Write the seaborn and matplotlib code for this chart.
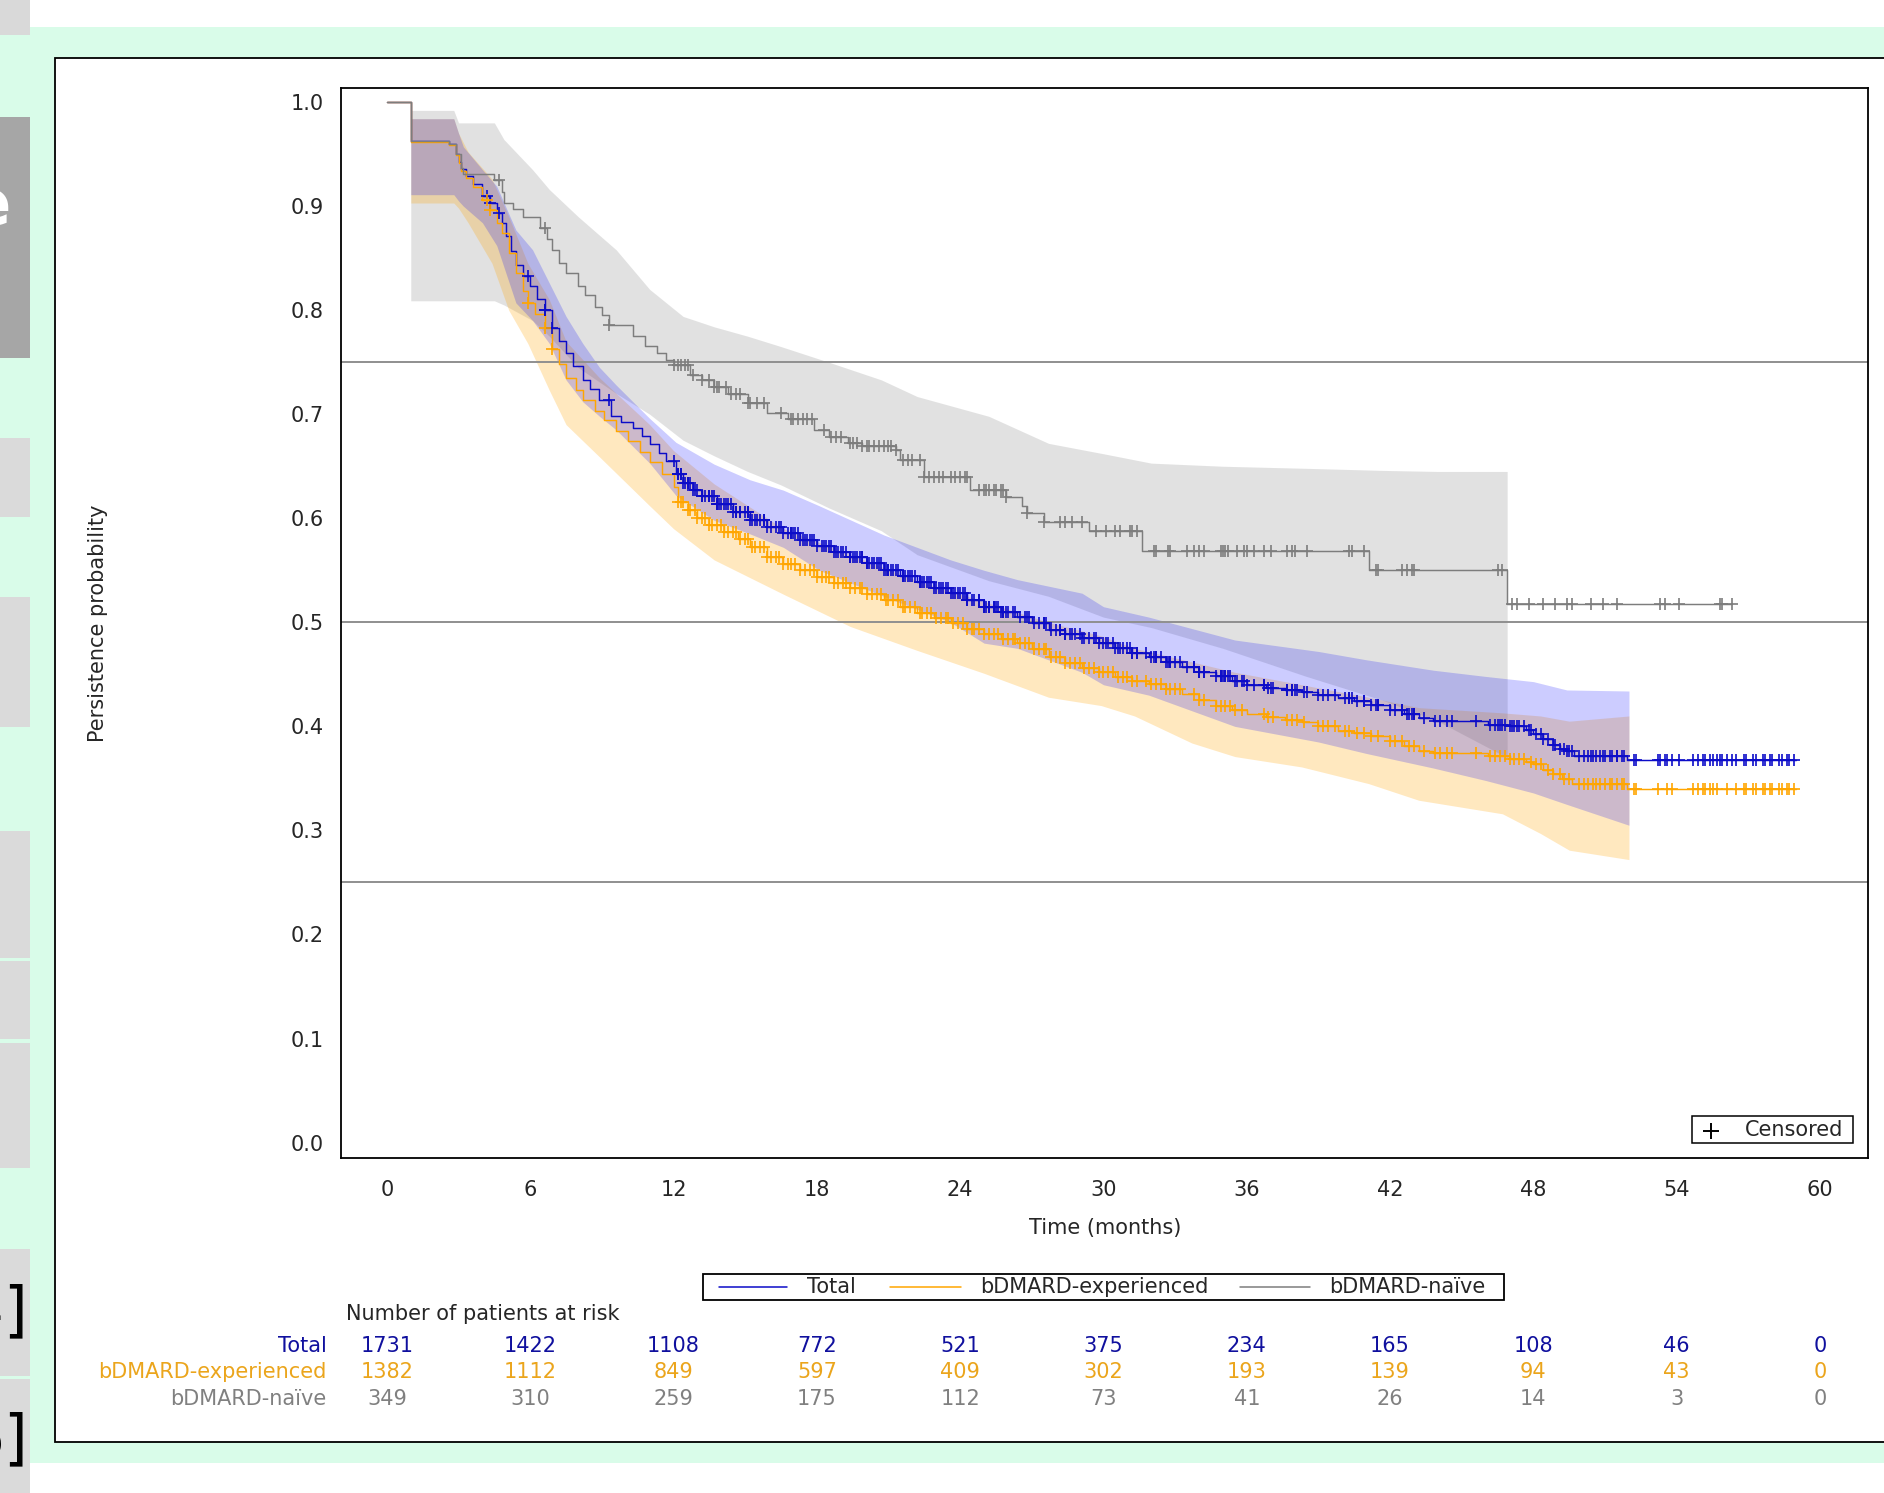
import numpy as np
import matplotlib
matplotlib.use("Agg")
import matplotlib.pyplot as plt
import matplotlib.transforms as mtransforms
from matplotlib.patches import Rectangle
from matplotlib.lines import Line2D
import seaborn as sns

sns.set_style("white")
plt.rcParams["font.family"] = ["DejaVu Sans"]

# ---------------- data ----------------
group_names = ["Total", "bDMARD-experienced", "bDMARD-naïve"]

total_t = [0, 1.0, 2.6, 2.9, 3.0, 3.1, 3.3, 3.6, 4.0, 4.3, 4.6, 4.8, 5.0, 5.2, 5.4, 5.7, 6.0, 6.3, 6.6, 6.9,
           7.2, 7.5, 7.8, 8.2, 8.5, 8.9, 9.4, 9.8, 10.3, 10.7, 11.0, 11.4, 11.7, 12.1, 12.4, 12.8, 13.2, 13.8,
           14.5, 15.2, 15.9, 16.6, 17.3, 18.0, 18.7, 19.4, 20.1, 20.8, 21.5, 22.2, 22.9, 23.6, 24.3, 25.0,
           25.7, 26.4, 27.0, 27.7, 28.4, 29.1, 29.8, 30.5, 31.2, 31.9, 32.6, 33.3, 34.0, 34.7, 35.4, 36.0,
           36.8, 37.6, 38.3, 39.0, 39.8, 40.5, 41.2, 42.0, 42.6, 43.2, 43.8, 46.1, 47.0, 47.7, 48.0, 48.4,
           48.8, 49.1, 49.4, 49.7, 51.9]
total_s = [1.000, 0.963, 0.960, 0.950, 0.942, 0.936, 0.929, 0.921, 0.910, 0.903, 0.893, 0.884, 0.871, 0.857,
           0.843, 0.833, 0.823, 0.811, 0.800, 0.783, 0.770, 0.759, 0.746, 0.733, 0.724, 0.714, 0.698, 0.693,
           0.687, 0.679, 0.671, 0.663, 0.655, 0.643, 0.634, 0.627, 0.621, 0.614, 0.606, 0.598, 0.592, 0.586,
           0.579, 0.573, 0.568, 0.563, 0.557, 0.550, 0.545, 0.539, 0.533, 0.528, 0.521, 0.515, 0.510, 0.505,
           0.499, 0.493, 0.489, 0.485, 0.480, 0.475, 0.471, 0.467, 0.462, 0.457, 0.452, 0.448, 0.444, 0.440,
           0.437, 0.435, 0.433, 0.430, 0.427, 0.424, 0.421, 0.416, 0.412, 0.408, 0.405, 0.401, 0.400, 0.397,
           0.393, 0.388, 0.382, 0.378, 0.376, 0.372, 0.368]
total_end = 59.0

exp_t = [0, 1.0, 2.6, 2.9, 3.0, 3.1, 3.3, 3.6, 4.0, 4.3, 4.6, 4.8, 5.1, 5.4, 5.7, 5.9, 6.2, 6.6, 6.9, 7.2, 7.5,
         7.9, 8.2, 8.7, 9.1, 9.6, 10.1, 10.6, 11.0, 11.5, 12.0, 12.2, 12.6, 13.0, 13.5, 14.1, 14.7, 15.2, 15.9,
         16.6, 17.3, 18.0, 18.7, 19.4, 20.1, 20.8, 21.5, 22.2, 22.9, 23.6, 24.3, 25.0, 25.7, 26.4, 27.0, 27.7,
         28.4, 29.1, 29.8, 30.5, 31.2, 31.9, 32.6, 33.3, 34.0, 34.7, 35.4, 36.0, 36.8, 37.6, 38.3, 39.0, 39.8,
         40.5, 41.2, 42.0, 42.6, 43.2, 43.8, 46.1, 47.0, 47.7, 48.0, 48.4, 48.8, 49.2, 49.6, 51.9]
exp_s = [1.000, 0.962, 0.959, 0.949, 0.941, 0.934, 0.927, 0.918, 0.906, 0.896, 0.884, 0.874, 0.855, 0.836,
         0.818, 0.807, 0.796, 0.783, 0.763, 0.748, 0.735, 0.723, 0.714, 0.703, 0.694, 0.684, 0.674, 0.664,
         0.654, 0.643, 0.630, 0.616, 0.608, 0.600, 0.594, 0.587, 0.580, 0.572, 0.563, 0.556, 0.550, 0.544,
         0.538, 0.533, 0.527, 0.521, 0.515, 0.509, 0.504, 0.499, 0.494, 0.489, 0.484, 0.480, 0.474, 0.467,
         0.461, 0.456, 0.452, 0.447, 0.444, 0.441, 0.436, 0.431, 0.425, 0.420, 0.416, 0.412, 0.409, 0.406,
         0.404, 0.400, 0.396, 0.394, 0.391, 0.386, 0.381, 0.376, 0.374, 0.372, 0.369, 0.366, 0.364, 0.358,
         0.354, 0.349, 0.345, 0.340]
exp_end = 59.0

naive_t = [0, 1.0, 2.6, 2.9, 3.1, 3.2, 4.5, 4.8, 4.9, 5.3, 5.7, 6.4, 6.7, 6.9, 7.2, 7.5, 8.0, 8.3, 8.7, 9.0, 9.3,
           10.3, 10.8, 11.3, 11.7, 12.0, 12.7, 13.2, 13.7, 14.3, 15.1, 15.9, 16.8, 17.9, 18.5, 19.3, 19.9,
           21.3, 21.5, 22.5, 24.4, 25.9, 26.6, 26.8, 27.5, 29.4, 31.6, 41.1, 46.9]
naive_s = [1.000, 0.963, 0.960, 0.950, 0.937, 0.931, 0.925, 0.914, 0.903, 0.897, 0.890, 0.879, 0.868, 0.858,
           0.845, 0.836, 0.823, 0.815, 0.803, 0.795, 0.786, 0.775, 0.766, 0.759, 0.752, 0.747, 0.738, 0.733,
           0.726, 0.719, 0.711, 0.701, 0.695, 0.685, 0.678, 0.672, 0.669, 0.666, 0.656, 0.640, 0.627, 0.620,
           0.612, 0.605, 0.596, 0.588, 0.569, 0.550, 0.518]
naive_end = 56.3

# confidence bands
total_band_t = [1.0, 2.8, 3.0, 3.2, 4.0, 4.6, 5.4, 6.1, 6.8, 7.5, 8.2, 8.9, 9.6, 11.0, 12.1, 13.7, 15.2, 16.6,
                18.1, 20.8, 23.6, 25.0, 26.4, 29.1, 30.0, 31.9, 35.5, 39.0, 41.0, 43.8, 46.0, 48.0, 49.4, 52.0]
total_band_hi = [0.984, 0.984, 0.970, 0.957, 0.935, 0.919, 0.877, 0.858, 0.826, 0.794, 0.768, 0.745, 0.728,
                 0.696, 0.673, 0.652, 0.637, 0.627, 0.612, 0.584, 0.560, 0.550, 0.541, 0.528, 0.515, 0.505,
                 0.483, 0.472, 0.464, 0.454, 0.448, 0.443, 0.435, 0.434]
total_band_lo = [0.911, 0.911, 0.905, 0.900, 0.884, 0.862, 0.807, 0.790, 0.768, 0.733, 0.712, 0.698, 0.685,
                 0.653, 0.622, 0.598, 0.585, 0.572, 0.550, 0.525, 0.500, 0.480, 0.475, 0.452, 0.440, 0.430,
                 0.400, 0.385, 0.374, 0.360, 0.348, 0.336, 0.325, 0.305]

exp_band_t = [1.0, 2.8, 3.0, 3.4, 4.4, 5.1, 5.9, 6.8, 7.5, 8.9, 11.0, 12.0, 13.7, 16.6, 19.4, 22.2, 25.0, 27.7,
              29.9, 31.3, 33.7, 35.5, 38.3, 41.1, 43.2, 46.7, 48.3, 49.5, 52.0]
exp_band_hi = [0.984, 0.984, 0.970, 0.952, 0.926, 0.890, 0.845, 0.810, 0.770, 0.735, 0.690, 0.665, 0.633,
               0.590, 0.565, 0.540, 0.520, 0.500, 0.487, 0.475, 0.462, 0.452, 0.440, 0.428, 0.418, 0.413,
               0.410, 0.405, 0.410]
exp_band_lo = [0.903, 0.903, 0.898, 0.884, 0.845, 0.800, 0.768, 0.723, 0.690, 0.659, 0.612, 0.590, 0.560,
               0.527, 0.496, 0.473, 0.451, 0.428, 0.420, 0.410, 0.384, 0.371, 0.361, 0.345, 0.329, 0.316,
               0.297, 0.281, 0.272]

naive_band_t = [1.0, 2.8, 3.0, 4.5, 4.9, 6.1, 6.8, 8.0, 9.6, 11.0, 12.4, 13.7, 15.1, 16.5, 18.5, 20.7, 22.2,
                25.2, 27.7, 30.0, 32.0, 35.0, 38.5, 41.7, 44.0, 46.9]
naive_band_hi = [0.992, 0.992, 0.980, 0.980, 0.964, 0.935, 0.916, 0.890, 0.858, 0.820, 0.794, 0.784, 0.775,
                 0.765, 0.750, 0.733, 0.717, 0.698, 0.672, 0.662, 0.653, 0.650, 0.648, 0.646, 0.645, 0.645]
naive_band_lo = [0.809, 0.809, 0.809, 0.809, 0.805, 0.790, 0.775, 0.745, 0.720, 0.700, 0.675, 0.660, 0.645,
                 0.632, 0.610, 0.588, 0.565, 0.540, 0.525, 0.505, 0.495, 0.475, 0.448, 0.425, 0.405, 0.370]

# censored times
exp_cens = [4.2, 4.3, 5.9, 6.6, 6.9,
            12.2, 12.3, 12.4, 12.6, 12.7, 12.9, 13.0, 13.2, 13.3, 13.5, 13.6, 13.8, 14.0, 14.1, 14.3, 14.5,
            14.6, 14.8, 15.0, 15.1, 15.3, 15.4, 15.6, 15.8, 15.9, 16.1, 16.3, 16.4, 16.6, 16.8, 16.9, 17.1,
            17.3, 17.5, 17.7, 17.9, 18.0, 18.2, 18.4, 18.5, 18.7, 18.9, 19.1, 19.2, 19.4, 19.6, 19.8, 19.9,
            20.1, 20.3, 20.5, 20.7, 20.9, 21.0, 21.2, 21.4, 21.6, 21.7, 21.9, 22.1, 22.3, 22.4, 22.6, 22.8,
            23.0, 23.2, 23.4, 23.5, 23.7, 23.9, 24.1, 24.3, 24.5, 24.6, 24.8, 25.0, 25.2, 25.4, 25.6, 25.8,
            26.0, 26.2, 26.3, 26.5, 26.7, 26.9, 27.1, 27.3, 27.5, 27.6, 27.8, 28.0, 28.2, 28.4, 28.6, 28.8,
            29.0, 29.2, 29.4, 29.6, 29.8, 30.0, 30.2, 30.4, 30.6, 30.8, 31.0, 31.2, 31.4, 31.8, 32.0, 32.2,
            32.4, 32.6, 32.8, 33.0, 33.2, 33.8, 34.0, 34.2, 34.7, 34.9, 35.1, 35.3, 35.5, 35.8, 36.7, 36.9,
            37.1, 37.7, 37.9, 38.1, 38.4, 39.0, 39.2, 39.4, 39.7, 40.1, 40.3, 40.6, 40.9, 41.2, 41.5, 42.0,
            42.2, 42.5, 42.8, 43.0, 43.4, 43.9, 44.1, 44.4, 44.6, 45.6, 46.2, 46.4, 46.6, 46.8, 47.0, 47.2,
            47.4, 47.6, 47.9, 48.1, 48.3, 48.6, 48.8, 49.1, 49.3, 49.5, 49.9, 50.1, 50.3, 50.5, 50.6, 50.8,
            51.0, 51.2, 51.3, 51.5, 51.7, 51.8, 52.2, 52.3, 53.2, 53.6, 53.8, 54.7, 54.9, 55.1, 55.2, 55.4,
            55.5, 55.7, 56.1, 56.5, 56.8, 56.9, 57.2, 57.3, 57.6, 57.7, 57.9, 58.0, 58.3, 58.4, 58.6, 58.7, 58.9]
naive_cens = [4.7, 6.6, 9.3, 12.0, 12.2, 12.3, 12.5, 12.6, 12.8, 13.2, 13.5, 13.7, 13.8, 13.9, 14.2, 14.4, 14.6,
              14.8, 15.1, 15.2, 15.5, 15.8, 16.5, 16.9, 17.0, 17.2, 17.4, 17.6, 17.8, 18.3, 18.6, 18.8, 19.0,
              19.4, 19.5, 19.7, 19.9, 20.1, 20.2, 20.4, 20.6, 20.8, 21.0, 21.1, 21.3, 21.6, 21.8, 22.0, 22.3,
              22.5, 22.7, 22.9, 23.1, 23.3, 23.6, 23.8, 24.0, 24.2, 24.3, 24.8, 25.0, 25.1, 25.2, 25.4, 25.5,
              25.7, 25.8, 25.9, 26.8, 27.5, 28.2, 28.4, 28.7, 29.1, 29.7, 30.1, 30.5, 30.7, 31.1, 31.2, 31.4,
              32.1, 32.2, 32.7, 32.8, 33.5, 33.8, 34.0, 34.2, 34.9, 35.0, 35.1, 35.2, 35.6, 35.9, 36.0, 36.3,
              36.7, 37.0, 37.7, 37.9, 38.0, 38.5, 40.3, 40.4, 40.9, 41.4, 41.5, 42.5, 42.7, 42.9, 43.0, 46.5,
              46.7, 47.1, 47.3, 47.8, 48.4, 48.9, 49.4, 49.6, 50.4, 50.9, 51.5, 53.3, 53.5, 54.1, 55.8, 55.9, 56.3]

risk_times = [0, 6, 12, 18, 24, 30, 36, 42, 48, 54, 60]
total_risk = [1731, 1422, 1108, 772, 521, 375, 234, 165, 108, 46, 0]
exp_risk = [1382, 1112, 849, 597, 409, 302, 193, 139, 94, 43, 0]
naive_risk = [349, 310, 259, 175, 112, 73, 41, 26, 14, 3, 0]

# ---------------- styling ----------------
line_colors = ["#0c0cc8", "#ffa500", "#7d7d7d"]
text_colors = ["#10109e", "#eba51c", "#808080"]
band_colors = ["#0000ff", "#ffa500", "#9e9e9e"]
band_alphas = [0.20, 0.25, 0.30]

W, H = 1884, 1493
fig = plt.figure(figsize=(W / 100, H / 100), dpi=100)
fig.patch.set_facecolor("white")


def fyy(y):
    return 1 - y / H


def frect(x0, y0, x1, y1, **kw):
    fig.add_artist(Rectangle((x0 / W, fyy(y1)), (x1 - x0) / W, (y1 - y0) / H,
                             transform=fig.transFigure, **kw))


# page background pieces
frect(0, 27, W, 1463, fc="#d9fce9", ec="none", zorder=-3)
frect(54.5, 57.7, W + 20, 1441.7, fc="white", ec="black", lw=1.3, zorder=-2)
frect(0, 0, 30, 35, fc="#d9d9d9", ec="none", zorder=-2)
frect(0, 117, 30, 358, fc="#a6a6a6", ec="none", zorder=-2)
for (a, b) in [(438, 517), (597, 727), (831, 958), (961, 1039), (1043, 1168), (1249, 1376), (1379, 1493)]:
    frect(0, a, 30, b, fc="#dadada", ec="none", zorder=-2)
fig.text(11 / W, fyy(207), "e", color="white", fontsize=46, fontweight="bold", ha="right", va="center")
fig.text(28 / W, fyy(1313), "4]", color="black", fontsize=44, ha="right", va="center")
fig.text(29 / W, fyy(1441), "6]", color="black", fontsize=44, ha="right", va="center")

# axes
ax_l, ax_r, ax_t, ax_b = 341.2, 1868.3, 87.7, 1158.2
ax = fig.add_axes([ax_l / W, fyy(ax_b), (ax_r - ax_l) / W, (ax_b - ax_t) / H])
ax.set_facecolor("white")

# bands: naive, experienced, total
for bt, blo, bhi, ci in [(naive_band_t, naive_band_lo, naive_band_hi, 2),
                         (exp_band_t, exp_band_lo, exp_band_hi, 1),
                         (total_band_t, total_band_lo, total_band_hi, 0)]:
    ax.fill_between(bt, blo, bhi, color=band_colors[ci], alpha=band_alphas[ci], lw=0, zorder=1)

for v in [0.25, 0.5, 0.75]:
    ax.axhline(v, color="#8f8f8f", lw=1.4, zorder=1.5)


def step_value(times, vals, q):
    idx = np.searchsorted(np.asarray(times), np.asarray(q), side="right") - 1
    return np.asarray(vals)[idx]


total_cens = np.sort(np.concatenate([exp_cens, naive_cens]))
curves = [(total_t, total_s, total_end, total_cens, 0),
          (exp_t, exp_s, exp_end, exp_cens, 1),
          (naive_t, naive_s, naive_end, naive_cens, 2)]
for tt, ss, tend, cens, ci in curves:
    xs = list(tt) + [tend]
    ys = list(ss) + [ss[-1]]
    sns.lineplot(x=xs, y=ys, ax=ax, drawstyle="steps-post", estimator=None, sort=False,
                 color=line_colors[ci], lw=1.05, zorder=3)
    cy = step_value(tt, ss, cens)
    sns.scatterplot(x=np.asarray(cens), y=cy, ax=ax, marker="+", s=85, color=line_colors[ci],
                    linewidth=1.2, zorder=4)

ax.set_xlim(-1.913, 62.02)
ax.set_ylim(-0.015, 1.0138)
ax.set_xticks(risk_times)
ax.set_xticklabels([str(t) for t in risk_times])
yt = np.round(np.arange(0, 1.01, 0.1), 1)
ax.set_yticks(yt)
ax.set_yticklabels([f"{v:.1f}" for v in yt])
ax.tick_params(axis="x", direction="out", length=7, width=1.3, color="#808080", labelsize=15, pad=8.5)
ax.tick_params(axis="y", direction="out", length=7.5, width=1.3, color="#808080", labelsize=15, pad=5)
for sp in ax.spines.values():
    sp.set_color("black")
    sp.set_linewidth(1.3)
    sp.set_visible(True)

ax.set_xlabel("Time (months)", fontsize=15)
ax.xaxis.set_label_coords(0.5, -(1228 - ax_b) / (ax_b - ax_t))
ax.xaxis.label.set_va("center")
ax.set_ylabel("Persistence probability", fontsize=15)
ax.yaxis.set_label_coords((98.5 - ax_l) / (ax_r - ax_l), 0.5)
ax.yaxis.label.set_va("center")

# censored legend (inside plot, lower right)
frect(1691.7, 1115.7, 1853.3, 1143.3, fc="white", ec="black", lw=1.1, zorder=5)
fig.add_artist(Line2D([1711 / W], [fyy(1130.5)], marker="+", ms=12, mew=1.4, color="black",
                      transform=fig.transFigure, zorder=6))
fig.text(1745 / W, fyy(1130), "Censored", fontsize=15, ha="left", va="center", zorder=6)

# group legend
frect(703, 1273.6, 1504, 1300, fc="white", ec="black", lw=1.3, zorder=5)
leg_items = [(718.5, 787, 807.4), (890.3, 961.2, 980.4), (1240, 1309.6, 1328.9)]
for i, (h0, h1, tx) in enumerate(leg_items):
    fig.add_artist(Line2D([h0 / W, h1 / W], [fyy(1287), fyy(1287)], color=line_colors[i], lw=1.1,
                          transform=fig.transFigure, zorder=6))
    fig.text(tx / W, fyy(1287), group_names[i], fontsize=15, ha="left", va="center", zorder=6)

# number at risk table
trans = mtransforms.blended_transform_factory(ax.transData, fig.transFigure)
fig.text(346 / W, fyy(1314.5), "Number of patients at risk", fontsize=15, ha="left", va="center")
row_y = [1346, 1372.5, 1399]
for i, counts in enumerate([total_risk, exp_risk, naive_risk]):
    fig.text(326.8 / W, fyy(row_y[i]), group_names[i], fontsize=15, color=text_colors[i],
             ha="right", va="center")
    for t, n in zip(risk_times, counts):
        ax.text(t, fyy(row_y[i]), str(n), transform=trans, fontsize=15, color=text_colors[i],
                ha="center", va="center", clip_on=False)

fig.savefig("out.png", dpi=100, facecolor=fig.get_facecolor())
